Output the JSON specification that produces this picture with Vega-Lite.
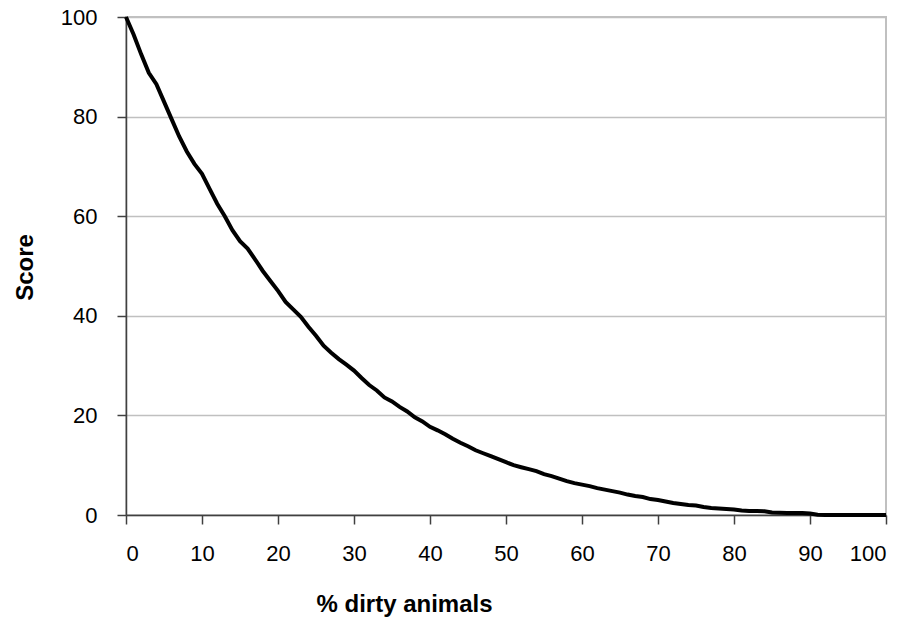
{
  "$schema": "https://vega.github.io/schema/vega-lite/v6.json",
  "width": 760,
  "height": 498,
  "autosize": "none",
  "padding": {"left": 126, "top": 17, "right": 20, "bottom": 104},
  "background": "white",
  "config": {
    "view": {"stroke": "#c0c0c0", "strokeWidth": 2},
    "font": "Liberation Sans"
  },
  "data": {
    "values": [
      {"pct": 0, "score": 100}, {"pct": 1, "score": 96.5}, {"pct": 2, "score": 92.5},
      {"pct": 3, "score": 88.8}, {"pct": 4, "score": 86.5}, {"pct": 5, "score": 83},
      {"pct": 6, "score": 79.5}, {"pct": 7, "score": 76}, {"pct": 8, "score": 73},
      {"pct": 9, "score": 70.5}, {"pct": 10, "score": 68.5}, {"pct": 11, "score": 65.5},
      {"pct": 12, "score": 62.5}, {"pct": 13, "score": 60}, {"pct": 14, "score": 57.2},
      {"pct": 15, "score": 55}, {"pct": 16, "score": 53.5}, {"pct": 17, "score": 51.3},
      {"pct": 18, "score": 49}, {"pct": 19, "score": 47}, {"pct": 20, "score": 45},
      {"pct": 21, "score": 42.8}, {"pct": 22, "score": 41.3}, {"pct": 23, "score": 39.8},
      {"pct": 24, "score": 37.8}, {"pct": 25, "score": 36}, {"pct": 26, "score": 34},
      {"pct": 27, "score": 32.6}, {"pct": 28, "score": 31.3}, {"pct": 29, "score": 30.2},
      {"pct": 30, "score": 29}, {"pct": 31, "score": 27.5}, {"pct": 32, "score": 26.1},
      {"pct": 33, "score": 25}, {"pct": 34, "score": 23.6}, {"pct": 35, "score": 22.8},
      {"pct": 36, "score": 21.7}, {"pct": 37, "score": 20.8}, {"pct": 38, "score": 19.6},
      {"pct": 39, "score": 18.8}, {"pct": 40, "score": 17.7}, {"pct": 41, "score": 17},
      {"pct": 42, "score": 16.2}, {"pct": 43, "score": 15.3}, {"pct": 44, "score": 14.5},
      {"pct": 45, "score": 13.8}, {"pct": 46, "score": 13}, {"pct": 47, "score": 12.4},
      {"pct": 48, "score": 11.8}, {"pct": 49, "score": 11.2}, {"pct": 50, "score": 10.6},
      {"pct": 51, "score": 10}, {"pct": 52, "score": 9.6}, {"pct": 53, "score": 9.2},
      {"pct": 54, "score": 8.8}, {"pct": 55, "score": 8.2}, {"pct": 56, "score": 7.8},
      {"pct": 57, "score": 7.3}, {"pct": 58, "score": 6.8}, {"pct": 59, "score": 6.4},
      {"pct": 60, "score": 6.1}, {"pct": 61, "score": 5.8}, {"pct": 62, "score": 5.4},
      {"pct": 63, "score": 5.1}, {"pct": 64, "score": 4.8}, {"pct": 65, "score": 4.5},
      {"pct": 66, "score": 4.1}, {"pct": 67, "score": 3.8}, {"pct": 68, "score": 3.6},
      {"pct": 69, "score": 3.2}, {"pct": 70, "score": 3.0}, {"pct": 71, "score": 2.7},
      {"pct": 72, "score": 2.4}, {"pct": 73, "score": 2.2}, {"pct": 74, "score": 2.0},
      {"pct": 75, "score": 1.9}, {"pct": 76, "score": 1.6}, {"pct": 77, "score": 1.4},
      {"pct": 78, "score": 1.3}, {"pct": 79, "score": 1.2}, {"pct": 80, "score": 1.1},
      {"pct": 81, "score": 0.9}, {"pct": 82, "score": 0.8}, {"pct": 83, "score": 0.8},
      {"pct": 84, "score": 0.75}, {"pct": 85, "score": 0.5}, {"pct": 86, "score": 0.45},
      {"pct": 87, "score": 0.4}, {"pct": 88, "score": 0.4}, {"pct": 89, "score": 0.4},
      {"pct": 90, "score": 0.3}, {"pct": 91, "score": 0.05}, {"pct": 92, "score": 0},
      {"pct": 94, "score": 0}, {"pct": 96, "score": 0}, {"pct": 98, "score": 0},
      {"pct": 100, "score": 0}
    ]
  },
  "mark": {"type": "line", "color": "black", "strokeWidth": 4, "clip": false},
  "encoding": {
    "x": {
      "field": "pct",
      "type": "quantitative",
      "scale": {"domain": [0, 100], "nice": false},
      "axis": {
        "title": "% dirty animals",
        "values": [0, 10, 20, 30, 40, 50, 60, 70, 80, 90, 100],
        "grid": false,
        "domainColor": "#404040",
        "domainWidth": 1.5,
        "tickColor": "#404040",
        "tickWidth": 1.5,
        "tickSize": 9,
        "labelFontSize": 22,
        "labelColor": "black",
        "labelPadding": 19,
        "labelFont": "Liberation Sans",
        "titleFont": "Liberation Sans",
        "titleFontSize": 24,
        "titleFontWeight": "bold",
        "titleColor": "black",
        "titleX": 278,
        "titleY": 96,
        "titleAlign": "center",
        "titleBaseline": "alphabetic"
      }
    },
    "y": {
      "field": "score",
      "type": "quantitative",
      "scale": {"domain": [0, 100], "nice": false},
      "axis": {
        "title": "Score",
        "values": [0, 20, 40, 60, 80, 100],
        "grid": true,
        "gridColor": "#c0c0c0",
        "gridWidth": 1.5,
        "domainColor": "#404040",
        "domainWidth": 1.5,
        "tickColor": "#404040",
        "tickWidth": 1.5,
        "tickSize": 9,
        "labelFontSize": 22,
        "labelColor": "black",
        "labelPadding": 20,
        "labelFont": "Liberation Sans",
        "titleFont": "Liberation Sans",
        "titleFontSize": 24,
        "titleFontWeight": "bold",
        "titleColor": "black",
        "titleX": -94,
        "titleY": 250,
        "titleAngle": -90,
        "titleAlign": "center",
        "titleBaseline": "alphabetic"
      }
    }
  }
}
